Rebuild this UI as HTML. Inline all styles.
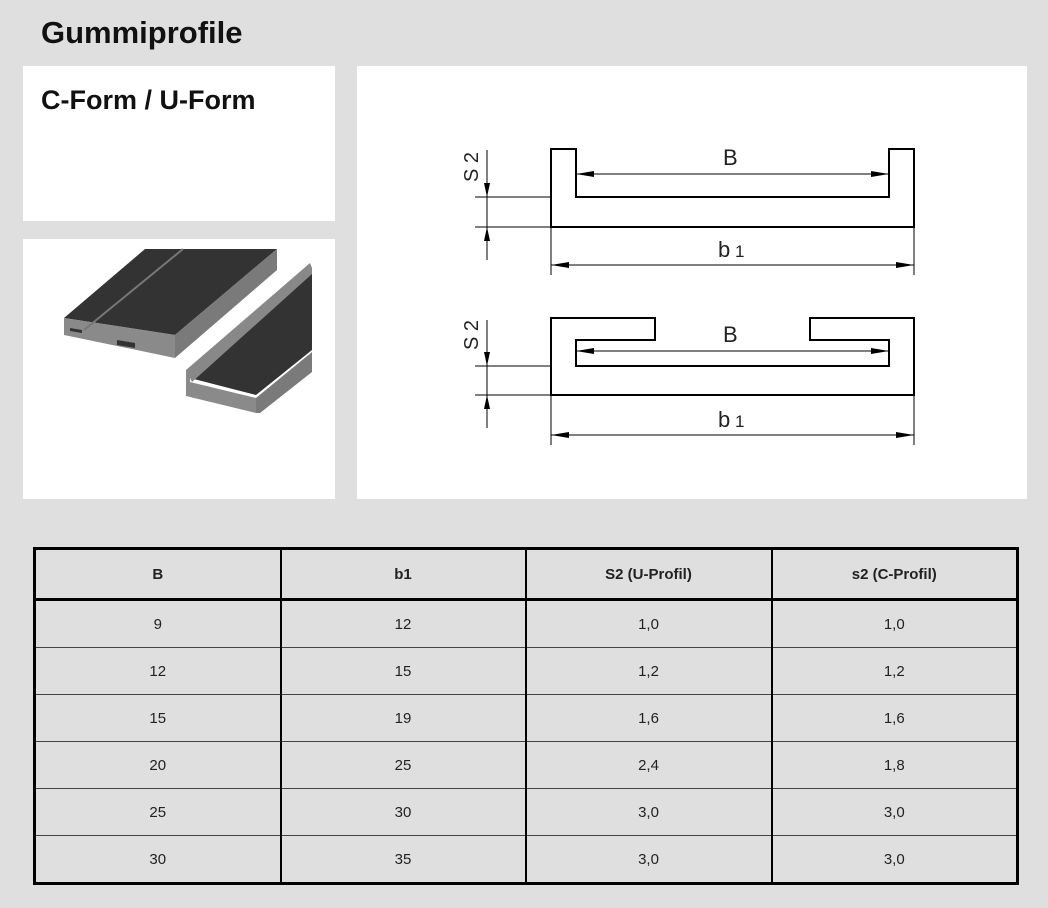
<!DOCTYPE html>
<html><head><style>
body{margin:0;width:1048px;height:908px;background:#dfdfdf;font-family:"Liberation Sans",sans-serif;position:relative;overflow:hidden}
.t{position:absolute;left:41px;top:15px;font-size:31px;font-weight:bold;color:#111}
.box{position:absolute;background:#fff}
.st{position:absolute;left:41px;top:85px;font-size:27px;font-weight:bold;color:#111}
table{position:absolute;left:33px;top:547px;width:983px;border-collapse:collapse;border:3px solid #000;font-size:15px;color:#222;table-layout:fixed}
td{text-align:center;border-bottom:1px solid #444;border-left:2px solid #000;border-right:2px solid #000;height:46px;padding:0}
tr.h td{font-weight:bold;border-bottom:3px solid #000;height:48px}
</style></head><body>
<div class="t">Gummiprofile</div>
<div class="box" style="left:23px;top:66px;width:312px;height:155px"></div>
<div class="st">C-Form / U-Form</div>
<div class="box" style="left:23px;top:239px;width:312px;height:260px"></div>
<div class="box" style="left:357px;top:66px;width:670px;height:433px"></div>
<svg style="position:absolute;left:0;top:0" width="1048" height="908">
<polygon points="64,318 145,249 277,249 175,335" fill="#333"/>
<polygon points="64,318 175,335 175,358 64,335" fill="#8a8a8a"/>
<polygon points="175,335 277,249 277,270 175,358" fill="#7a7a7a"/>
<polygon points="70,328 82,330 82,333 70,331" fill="#333"/>
<polygon points="117,340 135,343 135,348 117,345" fill="#333"/>
<line x1="84" y1="330" x2="183" y2="249" stroke="#777" stroke-width="2"/>
<polygon points="190,378 256,395 312,350 312,268" fill="#333"/>
<polygon points="186,370 190,370 190,382 256,398 256,413 186,396" fill="#8a8a8a"/>
<polygon points="256,398 312,352 312,372 260,413 256,413" fill="#7a7a7a"/>
<polygon points="186,370 310,263 312,268 312,274 192,382 190,378" fill="#888"/>
<g fill="none" stroke="#000">
<path d="M551,149 H576 V197 H889 V149 H914 V227 H551 Z" stroke-width="2"/>
<g stroke-width="1">
<line x1="475" y1="197" x2="551" y2="197"/><line x1="475" y1="227" x2="551" y2="227"/>
<line x1="487" y1="150" x2="487" y2="260"/>
<line x1="576" y1="174" x2="889" y2="174"/>
<line x1="551" y1="227" x2="551" y2="275"/><line x1="914" y1="227" x2="914" y2="275"/>
<line x1="551" y1="265" x2="914" y2="265"/>
<line x1="475" y1="366" x2="551" y2="366"/><line x1="475" y1="395" x2="551" y2="395"/>
<line x1="487" y1="320" x2="487" y2="428"/>
<line x1="576" y1="351" x2="889" y2="351"/>
<line x1="551" y1="395" x2="551" y2="445"/><line x1="914" y1="395" x2="914" y2="445"/>
<line x1="551" y1="435" x2="914" y2="435"/>
</g>
<path d="M551,318 H655 V340 H576 V366 H889 V340 H810 V318 H914 V395 H551 Z" stroke-width="2"/>
</g>
<g fill="#000">
<polygon points="487,197 484,183 490,183"/><polygon points="487,227 484,241 490,241"/>
<polygon points="576,174 594,171 594,177"/><polygon points="889,174 871,171 871,177"/>
<polygon points="551,265 569,262 569,268"/><polygon points="914,265 896,262 896,268"/>
<polygon points="487,366 484,352 490,352"/><polygon points="487,395 484,409 490,409"/>
<polygon points="576,351 594,348 594,354"/><polygon points="889,351 871,348 871,354"/>
<polygon points="551,435 569,432 569,438"/><polygon points="914,435 896,432 896,438"/>
</g>
<g font-family="Liberation Sans" font-size="22" fill="#222">
<text x="723" y="165">B</text><text x="723" y="342">B</text>
<text x="718" y="257">b</text><text x="735" y="257" font-size="17">1</text>
<text x="718" y="427">b</text><text x="735" y="427" font-size="17">1</text>
<text transform="translate(478,182) rotate(-90)" font-size="20">S 2</text>
<text transform="translate(478,350) rotate(-90)" font-size="20">S 2</text>
</g>
</svg>
<table>
<colgroup><col style="width:246px"><col style="width:245px"><col style="width:246px"><col style="width:246px"></colgroup>
<tr class="h"><td>B</td><td>b1</td><td>S2 (U-Profil)</td><td>s2 (C-Profil)</td></tr>
<tr><td>9</td><td>12</td><td>1,0</td><td>1,0</td></tr>
<tr><td>12</td><td>15</td><td>1,2</td><td>1,2</td></tr>
<tr><td>15</td><td>19</td><td>1,6</td><td>1,6</td></tr>
<tr><td>20</td><td>25</td><td>2,4</td><td>1,8</td></tr>
<tr><td>25</td><td>30</td><td>3,0</td><td>3,0</td></tr>
<tr><td>30</td><td>35</td><td>3,0</td><td>3,0</td></tr>
</table>
</body></html>
